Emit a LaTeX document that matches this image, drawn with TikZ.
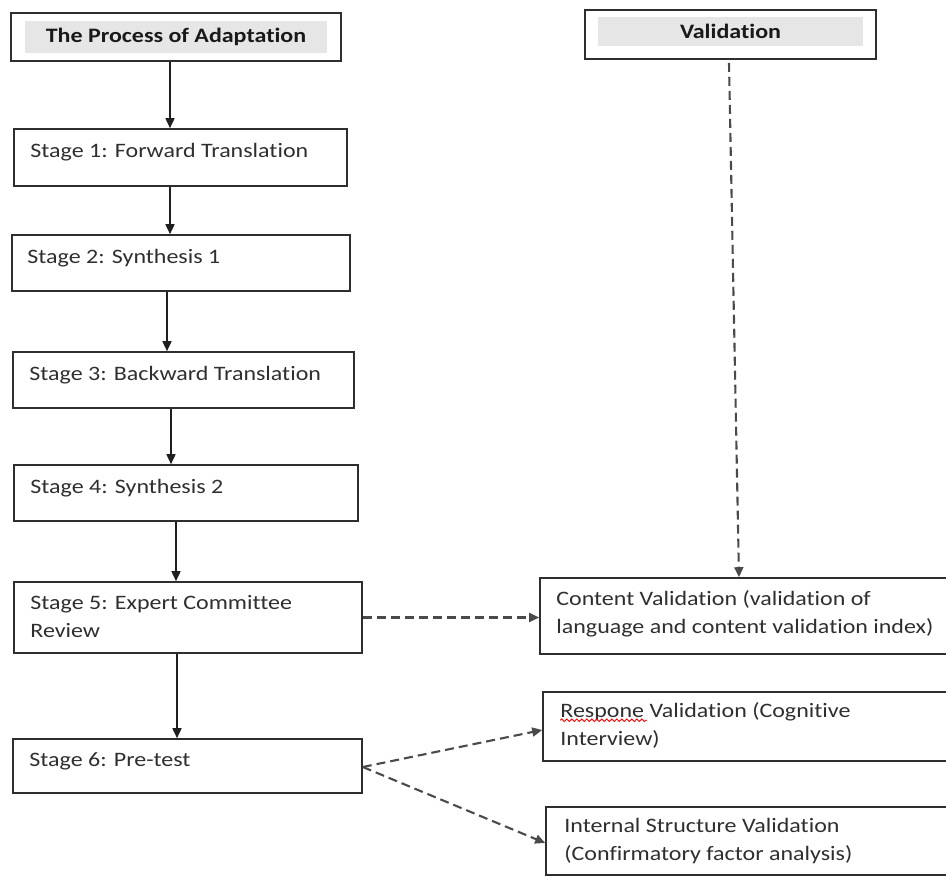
\documentclass[tikz,border=0pt]{standalone}
\usepackage{fontspec}
\setmainfont{Carlito}[FakeStretch=1.17,Ligatures=NoCommon]
\usetikzlibrary{arrows.meta,decorations.pathmorphing}
\definecolor{bordc}{HTML}{2E2E2E}
\definecolor{txtc}{HTML}{2F2F2F}
\definecolor{bandc}{HTML}{E6E6E6}
\definecolor{dashc}{HTML}{4A4A4A}
\begin{document}
\begin{tikzpicture}[x=1pt,y=-1pt,
  box/.style={draw=bordc,line width=1.6pt,fill=white,inner sep=0pt},
  band/.style={fill=bandc,inner sep=0pt,font=\fontsize{20.5}{24}\selectfont\bfseries,text=black!90},
  lbl/.style={anchor=base west,inner sep=0pt,font=\fontsize{20.5}{28}\selectfont,text=txtc},
  arr/.style={line width=1.6pt,draw=black!88,-{Triangle[length=10pt,width=9pt]}},
  darr/.style={line width=2.1pt,draw=dashc,dash pattern=on 9pt off 5pt,-{Triangle[length=10pt,width=9pt]}},
  squig/.style={draw=red,line width=0.9pt,decorate,decoration={snake,amplitude=1.3pt,segment length=5pt}}
]
\useasboundingbox (0,0) rectangle (946,877);
\clip (0,0) rectangle (946,877);

% headers
\node[box,minimum width=330pt,minimum height=48pt] (h1) at (176,37) {};
\node[band,minimum width=302pt,minimum height=32pt] (h1b) at (h1.center) {The Process of Adaptation};
\node[box,minimum width=291pt,minimum height=49pt] (h2) at (730.5,34.5) {};
\node[band,minimum width=265pt,minimum height=29pt] (h2b) at (730.5,31.5) {Validation};

% stage boxes
\node[box,minimum width=333pt,minimum height=57pt] (s1) at (180.5,157.5) {};
\node[box,minimum width=338pt,minimum height=56pt] (s2) at (181,263) {};
\node[box,minimum width=341pt,minimum height=56pt] (s3) at (183.5,380) {};
\node[box,minimum width=344pt,minimum height=56pt] (s4) at (186,493) {};
\node[box,minimum width=348pt,minimum height=71pt] (s5) at (188,617.5) {};
\node[box,minimum width=349pt,minimum height=54pt] (s6) at (187.5,766) {};

% validation boxes
\node[box,minimum width=420pt,minimum height=76pt] (cv) at (750,616) {};
\node[box,minimum width=417pt,minimum height=69pt] (rv) at (751.5,726.5) {};
\node[box,minimum width=414pt,minimum height=68pt] (is) at (753,841) {};

% texts
\node[lbl] (s1t) at ([shift={(17,29)}]s1.north west) {Stage 1: Forward Translation};
\node[lbl] (s2t) at ([shift={(16,29)}]s2.north west) {Stage 2: Synthesis 1};
\node[lbl] (s3t) at ([shift={(17,29)}]s3.north west) {Stage 3: Backward Translation};
\node[lbl] (s4t) at ([shift={(17,29)}]s4.north west) {Stage 4: Synthesis 2};
\node[lbl] (s5t) at ([shift={(17,28)}]s5.north west) {\parbox[t]{330pt}{Stage 5: Expert Committee\\Review}};
\node[lbl] (s6t) at ([shift={(17,28)}]s6.north west) {Stage 6: Pre-test};

\node[lbl] (cvt) at ([shift={(17,28)}]cv.north west) {\parbox[t]{400pt}{Content Validation (validation of\\language and content validation index)}};
\node[lbl] (rvt) at ([shift={(18,26)}]rv.north west) {\parbox[t]{400pt}{Respone Validation (Cognitive\\Interview)}};
\node[lbl] (ist) at ([shift={(19,26)}]is.north west) {\parbox[t]{400pt}{Internal Structure Validation\\(Confirmatory factor analysis)}};

\draw[squig] ([shift={(0,3)}]rvt.base west) -- ([shift={(87,3)}]rvt.base west);

% solid arrows
\coordinate (a1) at (170,0);
\coordinate (a2) at (170,0);
\coordinate (a3) at (167,0);
\coordinate (a4) at (171,0);
\coordinate (a5) at (176,0);
\coordinate (a6) at (177,0);
\draw[arr] (a1 |- h1.south) -- (a1 |- s1.north);
\draw[arr] (a2 |- s1.south) -- (a2 |- s2.north);
\draw[arr] (a3 |- s2.south) -- (a3 |- s3.north);
\draw[arr] (a4 |- s3.south) -- (a4 |- s4.north);
\draw[arr] (a5 |- s4.south) -- (a5 |- s5.north);
\draw[arr] (a6 |- s5.south) -- (a6 |- s6.north);

% dashed arrows
\draw[darr] ([shift={(-1.5,3)}]h2.south) -- ([xshift=-11pt]cv.north);
\draw[darr] (s5.east) -- (cv.west |- s5.east);
\draw[darr] ([shift={(0,1)}]s6.east) -- ([shift={(0,3.5)}]rv.west);
\draw[darr] ([shift={(0,1)}]s6.east) -- ([shift={(0,2)}]is.west);
\end{tikzpicture}
\end{document}
